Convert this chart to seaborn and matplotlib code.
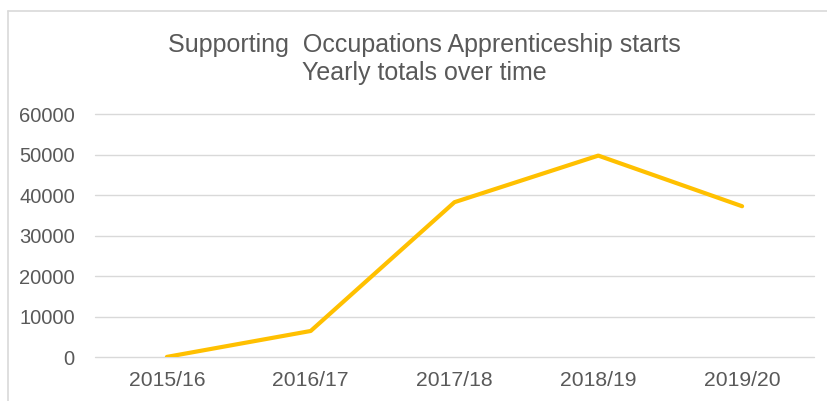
import matplotlib
matplotlib.use("Agg")
import matplotlib.pyplot as plt
import seaborn as sns
import pandas as pd
from matplotlib.lines import Line2D

years = ["2015/16", "2016/17", "2017/18", "2018/19", "2019/20"]
starts = [100, 6500, 38300, 49800, 37300]
yticks = [0, 10000, 20000, 30000, 40000, 50000, 60000]
title = "Supporting  Occupations Apprenticeship starts\nYearly totals over time"

sns.set_theme(style="white")
plt.rcParams['font.family'] = ['Liberation Sans', 'DejaVu Sans']

df = pd.DataFrame({"year": years, "starts": starts})

W, H = 828, 401
fig = plt.figure(figsize=(W / 100, H / 100), dpi=100)
ax = fig.add_axes([95 / W, 1 - 357.3 / H, (814 - 95) / W, (357.3 - 114.3) / H])

sns.lineplot(data=df, x="year", y="starts", ax=ax, color="#FFC000",
             linewidth=3.0, sort=False, solid_capstyle="round", zorder=3)

ax.set_xlim(-0.5, 4.5)
ax.set_ylim(0, 60000)
ax.set_yticks(yticks)
ax.set_yticklabels([str(v) for v in yticks])
ax.yaxis.grid(True, color="#D9D9D9", linewidth=1.0)
for gl in ax.yaxis.get_gridlines():
    gl.set_clip_on(False)
ax.xaxis.grid(False)
for s in ax.spines.values():
    s.set_visible(False)
ax.tick_params(axis="both", length=0, colors="#595959")
ax.tick_params(axis="y", pad=14.5, labelsize=14.5)
ax.tick_params(axis="x", pad=10, labelsize=15.2)
ax.set_xlabel("")
ax.set_ylabel("")

fig.text(424 / W, 1 - 59 / H, title, ha="center", va="center",
         fontsize=18, color="#595959", linespacing=1.2)

# chart border (top and left visible)
fig.add_artist(Line2D([8 / W, 1.0], [1 - 11 / H, 1 - 11 / H], transform=fig.transFigure,
                      color="#D9D9D9", linewidth=1.2))
fig.add_artist(Line2D([8 / W, 8 / W], [0, 1 - 11 / H], transform=fig.transFigure,
                      color="#D9D9D9", linewidth=1.2))

fig.savefig("out.png", dpi=100)
